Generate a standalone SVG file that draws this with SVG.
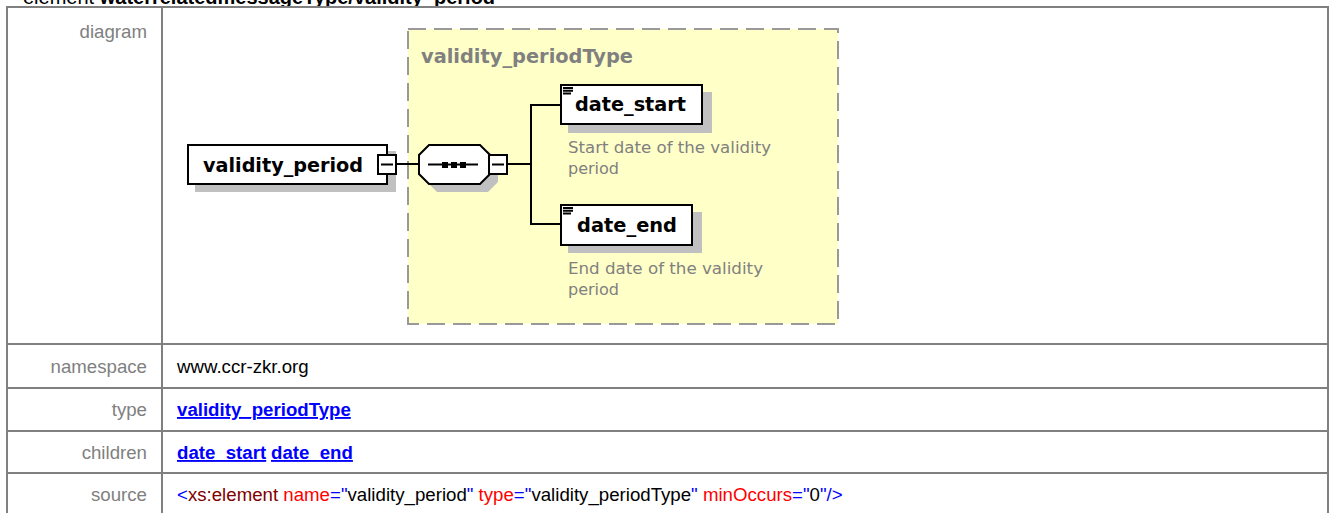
<svg xmlns="http://www.w3.org/2000/svg" width="1333" height="513" viewBox="0 0 1333 513">
<style>
.grid{stroke:#808080;stroke-width:2;fill:none}
.lbl{font-family:"Liberation Sans",Arial,sans-serif;font-size:18.67px;fill:#808080;text-anchor:end}
.val{font-family:"Liberation Sans",Arial,sans-serif;font-size:18.67px;fill:#000}
.lnk{font-family:"Liberation Sans",Arial,sans-serif;font-size:18.67px;font-weight:bold;fill:#0000FF;text-decoration:underline}
.box{fill:#fff;stroke:#000;stroke-width:2}
.shd{fill:#C0C0C0}
.nm{font-family:"DejaVu Sans",Verdana,sans-serif;font-size:19.2px;font-weight:bold;fill:#000}
.ds{font-family:"DejaVu Sans",Verdana,sans-serif;font-size:16px;fill:#808080}
.ln{stroke:#000;stroke-width:2;fill:none}
.b{fill:#0000FF}.m{fill:#800000}.r{fill:#FF0000}
</style>
<rect width="1333" height="513" fill="#fff"/>
<text x="23" y="4" font-family="Liberation Sans,Arial,sans-serif" font-size="20">element <tspan font-weight="bold">waterrelatedmessageType/validity_period</tspan></text>
<g id="table">
<rect class="grid" x="7" y="7" width="1321" height="520"/>
<line class="grid" x1="162" y1="7" x2="162" y2="513"/>
<line class="grid" x1="7" y1="344" x2="1328" y2="344"/>
<line class="grid" x1="7" y1="388" x2="1328" y2="388"/>
<line class="grid" x1="7" y1="431" x2="1328" y2="431"/>
<line class="grid" x1="7" y1="473" x2="1328" y2="473"/>
<text class="lbl" x="147" y="38">diagram</text>
<text class="lbl" x="147" y="373">namespace</text>
<text class="lbl" x="147" y="416">type</text>
<text class="lbl" x="147" y="459">children</text>
<text class="lbl" x="147" y="501">source</text>
<text class="val" x="177" y="373">www.ccr-zkr.org</text>
<text class="lnk" x="177" y="416">validity_periodType</text>
<text class="lnk" x="177" y="459">date_start</text>
<text class="lnk" x="271" y="459">date_end</text>
<text class="val" x="177" y="501"><tspan class="b">&lt;</tspan><tspan class="m">xs:element</tspan> <tspan class="r">name</tspan><tspan class="b">="</tspan>validity_period<tspan class="b">"</tspan> <tspan class="r">type</tspan><tspan class="b">="</tspan>validity_periodType<tspan class="b">"</tspan> <tspan class="r">minOccurs</tspan><tspan class="b">="</tspan>0<tspan class="b">"/&gt;</tspan></text>
</g>
<g id="validity_periodType">
<rect x="408" y="29" width="430" height="295" fill="#FFFFC8" stroke="#999" stroke-width="2" stroke-dasharray="18 8"/>
<text x="421" y="63" font-family="DejaVu Sans,Verdana,sans-serif" font-size="19.2" font-weight="bold" fill="#808080" textLength="212" lengthAdjust="spacingAndGlyphs">validity_periodType</text>
</g>
<g id="connectors">
<line class="ln" x1="397" y1="164" x2="419" y2="164"/>
<line class="ln" x1="508" y1="164" x2="531" y2="164"/>
<polyline class="ln" points="560,105 531,105 531,224 560,224"/>
</g>
<g id="validity_period">
<rect class="shd" x="195" y="151" width="201" height="41"/>
<rect class="box" x="188" y="145" width="199" height="39"/>
<text class="nm" x="203" y="172" textLength="160" lengthAdjust="spacingAndGlyphs">validity_period</text>
<rect class="box" x="378" y="155" width="18" height="19"/>
<line class="ln" x1="381" y1="164.5" x2="393" y2="164.5"/>
</g>
<g id="sequence">
<polygon class="shd" points="437,151 488,151 498,161 498,182 488,192 437,192 427,182 427,161"/>
<polygon class="box" points="429,145 480,145 490,155 490,174 480,184 429,184 419,174 419,155"/>
<line class="ln" x1="428" y1="164.5" x2="478" y2="164.5"/>
<rect x="442" y="162" width="6" height="6" fill="#000"/>
<rect x="451" y="162" width="6" height="6" fill="#000"/>
<rect x="460" y="162" width="6" height="6" fill="#000"/>
<rect class="box" x="489" y="155" width="18" height="19"/>
<line class="ln" x1="492" y1="164.5" x2="504" y2="164.5"/>
</g>
<g id="date_start">
<rect class="shd" x="568" y="92" width="144" height="41"/>
<rect class="box" x="561" y="85" width="141" height="39"/>
<path class="ln" stroke-width="1.3" d="M563,88H573M563,90.7H573M563,93.4H571"/>
<text class="nm" x="575" y="111" textLength="111" lengthAdjust="spacingAndGlyphs">date_start</text>
<text class="ds" x="568" y="153" textLength="203" lengthAdjust="spacingAndGlyphs">Start date of the validity</text>
<text class="ds" x="568" y="174">period</text>
</g>
<g id="date_end">
<rect class="shd" x="568" y="212" width="134" height="41"/>
<rect class="box" x="561" y="205" width="131" height="40"/>
<path class="ln" stroke-width="1.3" d="M563,208H573M563,210.7H573M563,213.4H571"/>
<text class="nm" x="577" y="232" textLength="100" lengthAdjust="spacingAndGlyphs">date_end</text>
<text class="ds" x="568" y="274" textLength="195" lengthAdjust="spacingAndGlyphs">End date of the validity</text>
<text class="ds" x="568" y="295">period</text>
</g>
</svg>
